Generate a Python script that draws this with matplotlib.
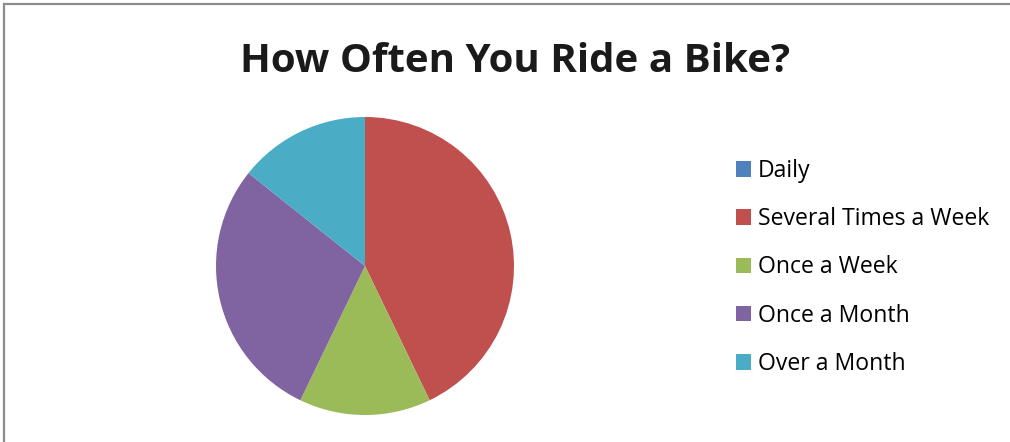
import matplotlib
matplotlib.use("Agg")
import matplotlib.pyplot as plt
from matplotlib.patches import Rectangle, Patch

labels = ["Daily", "Several Times a Week", "Once a Week", "Once a Month", "Over a Month"]
values = [0, 3, 1, 2, 1]
colors = ["#4F81BD", "#C0504D", "#9BBB59", "#8064A2", "#4BACC6"]

W, H = 1010, 442
fig = plt.figure(figsize=(W / 100, H / 100), dpi=100)
fig.patch.set_facecolor("white")

# chart area border (only top and left edges are visible in the crop)
fig.patches.append(Rectangle((4 / W, -0.1), 1.2, 1.1 - 4 / H, transform=fig.transFigure,
                             fill=False, edgecolor="#8c8c8c", linewidth=1.6))

# pie, centre at (365, 266) px, radius 149 px
ax = fig.add_axes([216 / W, (H - 415) / H, 298 / W, 298 / H])
ax.pie(values, colors=colors, startangle=90, counterclock=False,
       wedgeprops=dict(linewidth=0))
ax.set_xlim(-1, 1)
ax.set_ylim(-1, 1)
ax.set_aspect("equal")
ax.axis("off")

fig.text(515 / W, 1 - 61 / H, "How Often You Ride a Bike?", ha="center", va="center",
         fontsize=29, fontweight="bold", family="Open Sans", color="#1a1a1a")

handles = [Patch(facecolor=c, edgecolor="none") for c in colors]
fig.legend(handles, labels, loc="upper left", bbox_to_anchor=(736 / W, 1 - 159 / H),
           frameon=False, prop=dict(family="Open Sans", size=16.6),
           handlelength=0.66, handleheight=0.66, handletextpad=0.28,
           labelspacing=1.05, borderaxespad=0, borderpad=0)

fig.savefig("out.png", dpi=100)
